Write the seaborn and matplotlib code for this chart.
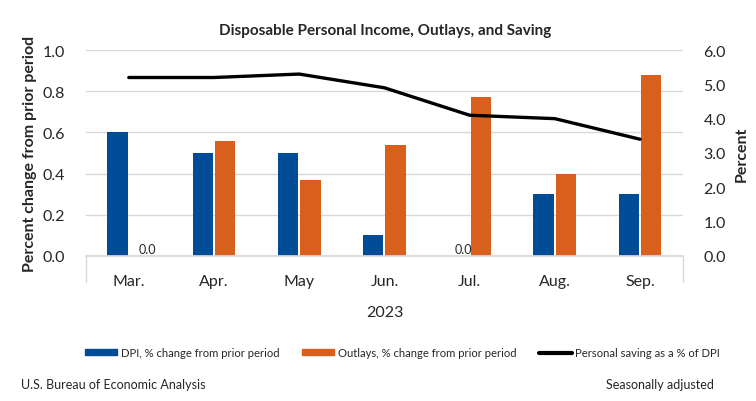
import matplotlib
matplotlib.use("Agg")
import matplotlib.pyplot as plt
import seaborn as sns
import pandas as pd
from matplotlib.lines import Line2D
from matplotlib.patches import Patch

# data
months = ["Mar.", "Apr.", "May", "Jun.", "Jul.", "Aug.", "Sep."]
dpi_change = [0.6, 0.5, 0.5, 0.1, 0.0, 0.3, 0.3]
outlays_change = [0.0, 0.56, 0.37, 0.54, 0.77, 0.40, 0.88]
saving_rate = [5.2, 5.2, 5.3, 4.9, 4.1, 4.0, 3.4]
series_names = ["DPI, % change from prior period",
                "Outlays, % change from prior period",
                "Personal saving as a % of DPI"]

blue = "#004C97"
orange = "#D9601C"
grid_col = "#D9D9D9"

sns.set_theme(style="white")
plt.rcParams["font.family"] = ["Lato", "DejaVu Sans"]

bars = pd.DataFrame({
    "month": months * 2,
    "value": dpi_change + outlays_change,
    "series": [series_names[0]] * len(months) + [series_names[1]] * len(months),
})
line = pd.DataFrame({"month": months, "saving": saving_rate})

fig = plt.figure(figsize=(7.56, 4.02), dpi=100)
ax = fig.add_axes([0.114, 0.361, 0.789, 0.512])

sns.barplot(data=bars, x="month", y="value", hue="series", order=months,
            hue_order=series_names[:2], palette=[blue, orange],
            saturation=1, width=0.524, gap=0.087, linewidth=0,
            legend=False, ax=ax)

# zero-value labels
for i, (d, o) in enumerate(zip(dpi_change, outlays_change)):
    if d == 0:
        ax.text(i - 0.07, 0.005, "0.0", ha="center", va="bottom", fontsize=9)
    if o == 0:
        ax.text(i + 0.22, 0.005, "0.0", ha="center", va="bottom", fontsize=9)

ax.set_ylim(0, 1.0)
ax.set_yticks([0, 0.2, 0.4, 0.6, 0.8, 1.0])
ax.set_yticklabels([f"{v:.1f}" for v in ax.get_yticks()])
ax.set_xlim(-0.5, len(months) - 0.5)
ax.yaxis.grid(True, color=grid_col, linewidth=1)
ax.set_axisbelow(True)
for s in ["top", "left", "right"]:
    ax.spines[s].set_visible(False)
ax.spines["bottom"].set_color(grid_col)
ax.tick_params(axis="y", length=0, pad=15, labelsize=11.5)
ax.tick_params(axis="x", length=0, pad=13, labelsize=11.5)
ax.set_xlabel("2023", fontsize=11.5, labelpad=12)
ax.set_ylabel("Percent change from prior period", fontsize=11.5,
              fontweight="bold", labelpad=4)

ax2 = ax.twinx()
sns.lineplot(data=line, x="month", y="saving", color="black",
             linewidth=2.4, ax=ax2, sort=False)
ax2.set_ylim(0, 6.0)
ax2.set_yticks(range(0, 7))
ax2.set_yticklabels([f"{v:.1f}" for v in range(0, 7)])
ax2.tick_params(axis="y", length=0, pad=15, labelsize=11.5)
for s in ax2.spines.values():
    s.set_visible(False)
ax2.set_ylabel("Percent", fontsize=11.5, fontweight="bold", labelpad=6)
ax2.grid(False)

# multi-level category frame
for xpos in (0, 1):
    ax.add_line(Line2D([xpos, xpos], [0, -0.125], transform=ax.transAxes,
                       color=grid_col, linewidth=1, clip_on=False))

fig.text(0.509, 0.923, "Disposable Personal Income, Outlays, and Saving",
         ha="center", va="center", fontsize=11, fontweight="bold")

handles = [Patch(color=blue), Patch(color=orange),
           Line2D([], [], color="black", linewidth=3)]
fig.legend(handles, series_names, loc="center", bbox_to_anchor=(0.532, 0.12),
           ncol=3, frameon=False, fontsize=8.1, handlelength=2.9,
           handleheight=0.5, handletextpad=0.3, columnspacing=2.0)

fig.text(0.028, 0.042, "U.S. Bureau of Economic Analysis", fontsize=9,
         ha="left", va="center")
fig.text(0.944, 0.042, "Seasonally adjusted", fontsize=9,
         ha="right", va="center")

fig.savefig("out.png", dpi=100)
